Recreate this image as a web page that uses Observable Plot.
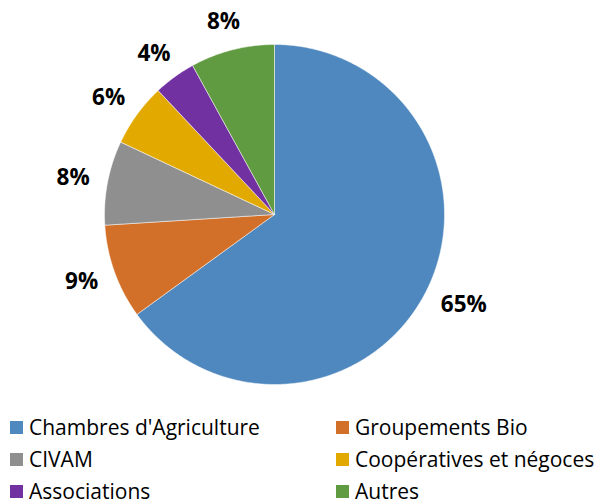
<!DOCTYPE html>
<html>
<head>
<meta charset="utf-8">
<script src="https://cdn.jsdelivr.net/npm/d3@7"></script>
<script src="https://cdn.jsdelivr.net/npm/@observablehq/plot@0.6"></script>
<style>
  body { margin: 0; background: #fff; }
  #chart { position: relative; width: 594px; }
  .legend { display: grid; grid-template-columns: 326px 268px; padding-left: 10px; font-family: "Open Sans", sans-serif; font-size: 21px; color: #000; }
  .legend .item { display: flex; align-items: center; height: 32px; white-space: nowrap; }
  .legend .sw { width: 13px; height: 13px; margin-right: 6px; flex: none; }
</style>
</head>
<body>
<div id="chart"></div>
<script>
const categories = ["Chambres d'Agriculture", "Groupements Bio", "CIVAM", "Coopératives et négoces", "Associations", "Autres"];
const values = [65, 9, 8, 6, 4, 8];
const labels = ["65%", "9%", "8%", "6%", "4%", "8%"];
const colors = ["#4F88BE", "#D2702A", "#8F8F8F", "#E2AA00", "#7131A1", "#619B41"];

const W = 594, H = 411;
const R = 170;          // pie radius (px units)
const GAP = 20;         // gap between arc and label box

const arcs = d3.pie().sort(null).value(d => d)(values);

// slice polygons (data-derived angles)
const pts = [];
arcs.forEach((a, i) => {
  const name = categories[i];
  pts.push({name, x: 0, y: 0});
  const n = Math.max(2, Math.ceil((a.endAngle - a.startAngle) / (Math.PI / 360)));
  for (let k = 0; k <= n; k++) {
    const t = a.startAngle + (a.endAngle - a.startAngle) * k / n;
    pts.push({name, x: R * Math.sin(t), y: R * Math.cos(t)});
  }
  pts.push({name, x: 0, y: 0});
});

// outside-end labels: box placed just outside the arc
const labelData = arcs.map((a, i) => {
  const m = (a.startAngle + a.endAngle) / 2;
  const s = Math.sin(m), c = Math.cos(m);
  const hw = labels[i].length * 7.5, hh = 8.5;
  return {text: labels[i], x: (R + GAP) * s + hw * s, y: (R + GAP) * c + hh * c};
});

const chart = Plot.plot({
  width: W,
  height: H,
  marginTop: 0, marginRight: 0, marginBottom: 0, marginLeft: 0,
  x: {domain: [-274, W - 274], axis: null},
  y: {domain: [214 - H, 214], axis: null},
  color: {domain: categories, range: colors},
  style: {background: "#fff", overflow: "visible"},
  marks: [
    Plot.line(pts, {x: "x", y: "y", z: "name", fill: "name", stroke: "#fff", strokeWidth: 0.7, strokeOpacity: 0.7, curve: "linear-closed"}),
    Plot.text(labelData, {x: "x", y: "y", text: "text", fontFamily: "'Open Sans', sans-serif", fontWeight: "bold", fontSize: 22.5, fill: "#000"})
  ]
});

const root = document.getElementById("chart");
root.appendChild(chart);

const color = chart.scale("color");
const legend = document.createElement("div");
legend.className = "legend";
categories.forEach((c, i) => {
  const it = document.createElement("div");
  it.className = "item";
  const sw = document.createElement("span");
  sw.className = "sw";
  sw.style.background = color.range[color.domain.indexOf(c)];
  const tx = document.createElement("span");
  tx.textContent = c;
  it.appendChild(sw);
  it.appendChild(tx);
  legend.appendChild(it);
});
root.appendChild(legend);
</script>
</body>
</html>
